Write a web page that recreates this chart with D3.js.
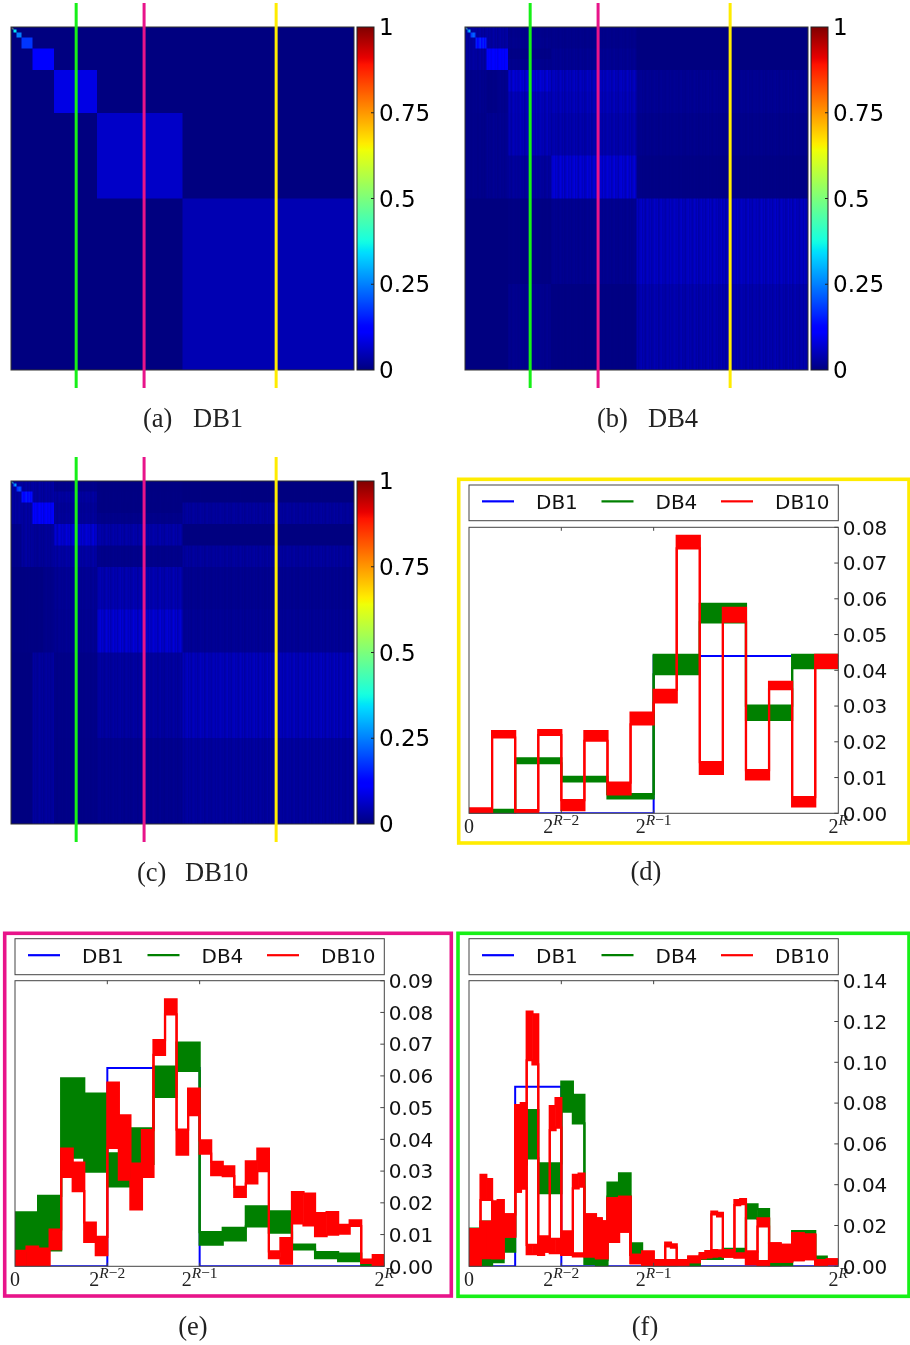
<!DOCTYPE html>
<html>
<head>
<meta charset="utf-8">
<script src="https://cdn.jsdelivr.net/npm/d3@7"></script>
<style>
  html, body { margin: 0; padding: 0; background: #fff; }
  #fig { position: relative; width: 910px; height: 1345px; overflow: hidden; }
  #fig canvas { position: absolute; }
  #fig svg { position: absolute; left: 0; top: 0; }
</style>
</head>
<body>
<div id="fig"></div>
<script>
// ---------------- data ----------------
const seriesNames = ["DB1", "DB4", "DB10"];
const colorbarTicks = [0, 0.25, 0.5, 0.75, 1];
const colorbarTickLabels = ["0", "0.25", "0.5", "0.75", "1"];

// column positions (fraction of the index range) of the three marked columns
const markedColumns = [0.19, 0.388, 0.773];   // green, magenta, yellow

// DB1 diagonal block values, level 0 = [1/2,1), level 9 = [0,1/512)
const db1Levels = [0.044, 0.0625, 0.088, 0.125, 0.177, 0.25, 0.354, 0.5, 0.707, 1.0];
// diagonal values of the small top-left blocks (levels 3..9) and the off-diagonal value there
const db4CornerLevels = [0.11, 0.14, 0.2, 0.28, 0.38, 0.5, 0.6];
const db10CornerLevels = [0.1, 0.13, 0.18, 0.26, 0.35, 0.45, 0.55];
const db4CornerOff = 0.025;
const db10CornerOff = 0.025;
// column-to-column texture (fraction of the local spread)
const stripePattern = [0.5, 1, 0.2, 0.8, 0, 0.6, 0.9, 0.3, 0.7, 0.1];

// yellow column (d): [lo, hi] per equal segment
const yellowDb4 = [[0.0,0.001],[0.014,0.0154],[0.0089,0.0102],[0.0042,0.0054],[0.0389,0.0443],[0.0534,0.0586],[0.0261,0.0301],[0.0406,0.0443]];
const yellowDb10 = [[0.0,0.0014],[0.0212,0.0230],[0.0003,0.0009],[0.0219,0.0233],[0.0009,0.0037],[0.0203,0.0230],[0.0053,0.0086],[0.0249,0.0282],
  [0.0310,0.0345],[0.0741,0.0776],[0.0110,0.0143],[0.0536,0.0575],[0.0095,0.0121],[0.0347,0.0368],[0.0019,0.0045],[0.0407,0.0443]];

// magenta column (e)
const pinkDb4 = [[0.0005,0.017],[0.005,0.0222],[0.0342,0.0592],[0.0298,0.0544],[0.0252,0.0356],[0.0323,0.0435],[0.0534,0.0629],[0.0616,0.0705],
  [0.0068,0.0108],[0.0082,0.0121],[0.0126,0.0189],[0.0106,0.0173],[0.0053,0.0068],[0.0026,0.0045],[0.0016,0.0040],[0.0,0.0012]];
const pinkDb10 = [[0,0.0049],[0,0.0062],[0,0.0056],[0.0054,0.0116],[0.0282,0.0371],[0.0237,0.0327],[0.0077,0.0138],[0.0035,0.0093],
  [0.0373,0.0579],[0.0273,0.0476],[0.0179,0.0324],[0.0282,0.0429],[0.0666,0.0713],[0.0794,0.0841],[0.0352,0.0431],[0.0476,0.0560],
  [0.0355,0.0397],[0.0287,0.0329],[0.0284,0.0315],[0.0219,0.0250],[0.0261,0.0331],[0.0300,0.0371],[0.0026,0.0047],[0.0008,0.0089],
  [0.0135,0.0234],[0.0129,0.0229],[0.0095,0.0168],[0.0100,0.0171],[0.0103,0.0131],[0.0127,0.0145],[0.0011,0.0021],[0,0.0035]];

// green column (f)
const greenDb4 = [[0.0,0.0185],[0.0,0.0219],[0.002,0.009],[0.0072,0.0150],[0.05,0.07],[0.0529,0.0766],[0.0358,0.0505],[0.0358,0.0505],
  [0.0758,0.0905],[0.0701,0.0840],[0.001,0.0056],[0.0,0.003],[0.0342,0.041],[0.0342,0.0456],[0.0056,0.0113],[0.0005,0.003],
  [0,0.002],[0.0003,0.0023],[0.0005,0.0025],[0.0003,0.0015],[0.0036,0.0056],[0.0036,0.0056],[0.0064,0.0085],[0.0064,0.0085],
  [0.0235,0.0304],[0.0232,0.028],[0,0.002],[0.0007,0.0026],[0.0155,0.0173],[0.0154,0.0173],[0.0026,0.0047],[0.0013,0.003]];
const greenDb10Upper = [[0,0.0182],[0,0.0182],[0.0325,0.0448],[0.0325,0.0428],[0.004,0.0317],[0.004,0.0325],[0.0145,0.0255],[0.0145,0.0255],
  [0.0366,0.079],[0.0382,0.080],[0.101,0.1248],[0.099,0.1235],[0.0056,0.0145],[0.0072,0.0145],[0.0668,0.0785],[0.068,0.0824],
  [0.0056,0.017],[0.0056,0.017],[0.0382,0.0448],[0.039,0.0455],[0.0048,0.0255],[0.0048,0.0255],[0.004,0.0235],[0.004,0.022],
  [0.012,0.0333],[0.012,0.0333],[0.017,0.034],[0.017,0.034],[0.0015,0.0056],[0.0015,0.0056],[0.0007,0.0072],[0.0007,0.0072],
  [0.0007,0.0031],[0.0007,0.0031],[0.0098,0.0116],[0.0092,0.0108],[0.0007,0.003],[0.0007,0.003],[0.002,0.0047],[0.002,0.0047],
  [0.004,0.0065],[0.0045,0.0075],[0.0255,0.0268],[0.0245,0.0262],[0.0047,0.008],[0.0047,0.008],[0.030,0.0325],[0.0305,0.033],
  [0.001,0.0072],[0.001,0.0072],[0.0195,0.0235],[0.0195,0.0235],[0.0023,0.0113],[0.0023,0.0113],[0.0023,0.0105],[0.0023,0.0105],
  [0.003,0.0162],[0.003,0.0162],[0.0035,0.0155],[0.0035,0.0155],[0.0007,0.003],[0.0007,0.003],[0.001,0.0034],[0.001,0.0034]];
const greenDb10Lower = [[0,0.0182],[0,0.0182],[0.004,0.0219],[0.004,0.0219],[0.004,0.0317],[0.004,0.0325],[0.0145,0.0255],[0.0145,0.0255],
  [0.0366,0.079],[0.0382,0.080],[0.006,0.0105],[0.006,0.0105],[0.0056,0.0145],[0.0072,0.0145],[0.0065,0.0135],[0.0065,0.0135],
  [0.0056,0.017],[0.0056,0.017],[0.0048,0.0064],[0.0048,0.0064],[0.0048,0.0255],[0.0048,0.0255],[0.004,0.0235],[0.004,0.022],
  [0.012,0.0333],[0.012,0.0333],[0.017,0.034],[0.017,0.034],[0.0015,0.0056],[0.0015,0.0056],[0.0007,0.0072],[0.0007,0.0072],
  [0.0007,0.0031],[0.0007,0.0031],[0.0005,0.003],[0.0005,0.003],[0.0007,0.003],[0.0007,0.003],[0.002,0.0047],[0.002,0.0047],
  [0.004,0.0065],[0.0045,0.0075],[0.0047,0.008],[0.005,0.0078],[0.0047,0.008],[0.0047,0.008],[0.0042,0.0064],[0.0042,0.0064],
  [0.001,0.0072],[0.001,0.0072],[0.0005,0.0025],[0.0005,0.0025],[0.0023,0.0113],[0.0023,0.0113],[0.0023,0.0105],[0.0023,0.0105],
  [0.003,0.0162],[0.003,0.0162],[0.0035,0.0155],[0.0035,0.0155],[0.0007,0.003],[0.0007,0.003],[0.001,0.0034],[0.001,0.0034]];

const yTicksD = [0, 0.01, 0.02, 0.03, 0.04, 0.05, 0.06, 0.07, 0.08];
const yTicksE = [0, 0.01, 0.02, 0.03, 0.04, 0.05, 0.06, 0.07, 0.08, 0.09];
const yTicksF = [0, 0.02, 0.04, 0.06, 0.08, 0.10, 0.12, 0.14];
const xTickValues = [0, 0.25, 0.5, 1];
const xTickLabels = [{ base: "0", exp: null }, { base: "2", exp: "R−2" }, { base: "2", exp: "R−1" }, { base: "2", exp: "R" }];
const heatmapCaptions = [["(a)", "DB1"], ["(b)", "DB4"], ["(c)", "DB10"]];
const plotCaptions = ["(d)", "(e)", "(f)"];

// ---------------- helpers ----------------
const colors = { DB1: "#0000ff", DB4: "#008000", DB10: "#ff0000" };
const markColors = ["#17f017", "#e8148a", "#ffec00"];

const jetR = d3.scaleLinear().domain([0, 0.35, 0.66, 0.89, 1]).range([0, 0, 1, 1, 0.5]).clamp(true);
const jetG = d3.scaleLinear().domain([0, 0.125, 0.375, 0.64, 0.91, 1]).range([0, 0, 1, 1, 0, 0]).clamp(true);
const jetB = d3.scaleLinear().domain([0, 0.11, 0.34, 0.65, 1]).range([0.5, 1, 1, 0, 0]).clamp(true);
const jet = v => [jetR(v) * 255, jetG(v) * 255, jetB(v) * 255];

const levelOf = t => Math.min(9, Math.floor(-Math.log2(t)));

// half of a dyadic block: [a,1.5a) or [1.5a,2a)
function halfBlock(t) {
  const l = levelOf(t);
  if (l >= 9) return [0, Math.pow(2, -9)];
  const a = Math.pow(2, -(l + 1));
  return t < 1.5 * a ? [a, 1.5 * a] : [1.5 * a, 2 * a];
}
// mean of a banded profile over [a,b]
function meanOver(profile, a, b) {
  const n = profile.length;
  let s = 0;
  for (let i = 0; i < n; i++) {
    const ov = Math.max(0, Math.min(b, (i + 1) / n) - Math.max(a, i / n));
    if (ov > 0) s += ov * (profile[i][0] + profile[i][1]) / 2;
  }
  return s / (b - a);
}
const mergeTraces = (a, b) => a.map((d, i) => [Math.min(d[0], b[i][0]), Math.max(d[1], b[i][1])]);

const matrixSpecs = [
  { kind: "haar" },
  { cols: [yellowDb4, pinkDb4, greenDb4], corner: db4CornerLevels, off: db4CornerOff },
  { cols: [yellowDb10, pinkDb10, mergeTraces(greenDb10Upper, greenDb10Lower)], corner: db10CornerLevels, off: db10CornerOff }
];

const meanCache = new Map();
function blockMean(spec, k, t) {
  const hb = halfBlock(t);
  const key = spec.cols.length + "|" + spec.corner[0] + "|" + k + "|" + hb[0];
  let v = meanCache.get(key);
  if (v === undefined) { v = meanOver(spec.cols[k], hb[0], hb[1]); meanCache.set(key, v); }
  return v;
}

function cellValue(spec, r, c) {
  const lr = levelOf(r), lc = levelOf(c);
  if (spec.kind === "haar") return lr === lc ? db1Levels[lr] : 0;
  const s = stripePattern[Math.floor(c * 256) % stripePattern.length];
  let base;
  if (lc <= 2) base = blockMean(spec, lc, r);
  else if (lr <= 2) base = blockMean(spec, lr, c);
  else return lr === lc ? spec.corner[lr - 3] * (0.85 + 0.3 * s) : spec.off * (0.7 + 0.6 * s);
  return base * (0.72 + 0.56 * s);
}

// ---------------- drawing ----------------
const fig = d3.select("#fig");
const W = 910, H = 1345;

const HM = 343;
const heatmapPanels = [{ x: 11, y: 27 }, { x: 465, y: 27 }, { x: 11, y: 481 }];

// heatmap images on canvases (below the svg overlay)
heatmapPanels.forEach((p, k) => {
  const S = HM * 2;
  const cv = fig.append("canvas").attr("width", S).attr("height", S)
    .style("left", p.x + "px").style("top", p.y + "px")
    .style("width", HM + "px").style("height", HM + "px");
  const ctx = cv.node().getContext("2d");
  const img = ctx.createImageData(S, S);
  const frac = d3.scaleLinear().domain([0, S]).range([0, 1]);
  for (let j = 0; j < S; j++) {
    const r = frac(j + 0.5);
    for (let i = 0; i < S; i++) {
      const c = frac(i + 0.5);
      const rgb = jet(cellValue(matrixSpecs[k], r, c));
      const o = (j * S + i) * 4;
      img.data[o] = rgb[0]; img.data[o + 1] = rgb[1]; img.data[o + 2] = rgb[2]; img.data[o + 3] = 255;
    }
  }
  ctx.putImageData(img, 0, 0);
});

const svg = fig.append("svg").attr("width", W).attr("height", H);
const defs = svg.append("defs");

// colorbar gradient
const grad = defs.append("linearGradient").attr("id", "jetgrad")
  .attr("x1", 0).attr("y1", 1).attr("x2", 0).attr("y2", 0);
d3.range(0, 1.0001, 0.01).forEach(v => {
  const c = jet(v);
  grad.append("stop").attr("offset", v).attr("stop-color", d3.rgb(c[0], c[1], c[2]).formatHex());
});

heatmapPanels.forEach((p, k) => {
  const g = svg.append("g");
  g.append("rect").attr("x", p.x).attr("y", p.y).attr("width", HM).attr("height", HM)
    .attr("fill", "none").attr("stroke", "#333").attr("stroke-width", 1);

  // colorbar
  const cbx = p.x + 346, cbw = 17;
  const cbScale = d3.scaleLinear().domain([0, 1]).range([p.y + HM, p.y]);
  g.append("rect").attr("x", cbx).attr("y", p.y).attr("width", cbw).attr("height", HM)
    .attr("fill", "url(#jetgrad)").attr("stroke", "#222").attr("stroke-width", 1);
  colorbarTicks.forEach((t, i) => {
    if (t > 0 && t < 1) {
      g.append("line").attr("x1", cbx + cbw - 3).attr("x2", cbx + cbw).attr("y1", cbScale(t)).attr("y2", cbScale(t))
        .attr("stroke", "#222").attr("stroke-width", 1);
    }
    g.append("text").attr("x", cbx + cbw + 5).attr("y", cbScale(t) + 8.2)
      .attr("font-family", "DejaVu Sans").attr("font-size", 23).attr("fill", "#000")
      .text(colorbarTickLabels[i]);
  });

  // marked columns
  const colX = d3.scaleLinear().domain([0, 1]).range([p.x, p.x + HM]);
  markedColumns.forEach((c, i) => {
    g.append("line").attr("x1", colX(c)).attr("x2", colX(c)).attr("y1", p.y - 24).attr("y2", p.y + HM + 18)
      .attr("stroke", markColors[i]).attr("stroke-width", 3);
  });

  // caption
  const cap = g.append("text").attr("y", p.y + HM + 57)
    .attr("font-family", "Liberation Serif").attr("font-size", 26.5).attr("fill", "#222");
  const capX = [[143, 193], [597, 648], [137, 185]][k];
  cap.append("tspan").attr("x", capX[0]).text(heatmapCaptions[k][0]);
  cap.append("tspan").attr("x", capX[1]).text(heatmapCaptions[k][1]);
});

// ---------------- profile panels ----------------
const panels = [
  { id: "d", x0: 469, x1: 838.3, top: 527.3, bot: 813.3, legTop: 485, legBot: 520.7, ticks: yTicksD, yMax: 0.08,
    col: markedColumns[2], db4: [yellowDb4], db10: [yellowDb10], frame: [458.7, 479.3, 450.3, 363.7], frameColor: markColors[2], capX: 646, capY: 880 },
  { id: "e", x0: 15, x1: 384.3, top: 980.7, bot: 1266.3, legTop: 938.7, legBot: 974.7, ticks: yTicksE, yMax: 0.09,
    col: markedColumns[1], db4: [pinkDb4], db10: [pinkDb10], frame: [4.7, 933.3, 446.6, 362.7], frameColor: markColors[1], capX: 193, capY: 1335 },
  { id: "f", x0: 469, x1: 838.3, top: 980.7, bot: 1266.3, legTop: 938.7, legBot: 974.7, ticks: yTicksF, yMax: 0.14,
    col: markedColumns[0], db4: [greenDb4], db10: [greenDb10Lower, greenDb10Upper], frame: [458, 933.3, 451, 363], frameColor: markColors[0], capX: 645, capY: 1335 }
];

panels.forEach((P, pi) => {
  const g = svg.append("g");
  const x = d3.scaleLinear().domain([0, 1]).range([P.x0, P.x1]);
  const y = d3.scaleLinear().domain([0, P.yMax]).range([P.bot, P.top]);

  // frame
  g.append("rect").attr("x", P.frame[0]).attr("y", P.frame[1]).attr("width", P.frame[2]).attr("height", P.frame[3])
    .attr("fill", "none").attr("stroke", P.frameColor).attr("stroke-width", 3.6);

  defs.append("clipPath").attr("id", "clip-" + P.id).append("rect")
    .attr("x", P.x0).attr("y", P.top).attr("width", P.x1 - P.x0).attr("height", P.bot - P.top);
  const plot = g.append("g").attr("clip-path", `url(#clip-${P.id})`);

  // DB1: column of the Haar matrix
  const colLevel = levelOf(P.col);
  const N = 512;
  const db1Pts = d3.range(N).map(i => {
    const r = (i + 0.5) / N;
    return [i / N, levelOf(r) === colLevel ? db1Levels[colLevel] : 0];
  });
  db1Pts.push([1, db1Pts[N - 1][1]]);
  const stepLine = d3.line().curve(d3.curveStepAfter).x(d => x(d[0])).y(d => y(d[1]));
  plot.append("path").attr("d", stepLine(db1Pts)).attr("fill", "none")
    .attr("stroke", colors.DB1).attr("stroke-width", 2);

  function drawTrace(trace, color) {
    const n = trace.length;
    plot.append("g").selectAll("rect").data(trace).join("rect")
      .attr("x", (d, i) => x(i / n) - 0.3)
      .attr("width", (d, i) => x((i + 1) / n) - x(i / n) + 0.6)
      .attr("y", d => y(d[1]))
      .attr("height", d => Math.max(0, y(d[0]) - y(d[1])))
      .attr("fill", color);
    [0, 1].forEach(k => {
      const pts = trace.map((d, i) => [i / n, d[k]]);
      pts.push([1, trace[n - 1][k]]);
      plot.append("path").attr("d", stepLine(pts)).attr("fill", "none")
        .attr("stroke", color).attr("stroke-width", 2.2);
    });
  }
  P.db4.forEach(t => drawTrace(t, colors.DB4));
  P.db10.forEach(t => drawTrace(t, colors.DB10));

  // axes box
  g.append("rect").attr("x", P.x0).attr("y", P.top).attr("width", P.x1 - P.x0).attr("height", P.bot - P.top)
    .attr("fill", "none").attr("stroke", "#444").attr("stroke-width", 1);

  // y ticks (right side)
  P.ticks.forEach(t => {
    g.append("line").attr("x1", P.x1 - 4).attr("x2", P.x1).attr("y1", y(t)).attr("y2", y(t))
      .attr("stroke", "#444").attr("stroke-width", 1);
    g.append("text").attr("x", P.x1 + 4.5).attr("y", y(t) + 7.3)
      .attr("font-family", "DejaVu Sans").attr("font-size", 20).attr("fill", "#111")
      .text(d3.format(".2f")(t));
  });

  // x ticks
  xTickValues.forEach((v, i) => {
    if (v > 0 && v < 1) {
      g.append("line").attr("x1", x(v)).attr("x2", x(v)).attr("y1", P.top).attr("y2", P.top + 3.5)
        .attr("stroke", "#444").attr("stroke-width", 1);
      g.append("line").attr("x1", x(v)).attr("x2", x(v)).attr("y1", P.bot).attr("y2", P.bot - 3.5)
        .attr("stroke", "#444").attr("stroke-width", 1);
    }
    const lab = xTickLabels[i];
    const t = g.append("text").attr("x", x(v)).attr("y", P.bot + 20).attr("text-anchor", "middle")
      .attr("font-family", "Liberation Serif").attr("font-size", 20).attr("fill", "#222");
    t.append("tspan").text(lab.base);
    if (lab.exp) {
      const sup = t.append("tspan").attr("dy", -8.5).attr("font-size", 15.5);
      sup.append("tspan").attr("font-style", "italic").text(lab.exp[0]);
      if (lab.exp.length > 1) sup.append("tspan").text(lab.exp.slice(1));
    }
  });

  // legend
  g.append("rect").attr("x", P.x0).attr("y", P.legTop).attr("width", P.x1 - P.x0).attr("height", P.legBot - P.legTop)
    .attr("fill", "#fff").attr("stroke", "#444").attr("stroke-width", 1);
  const ly = (P.legTop + P.legBot) / 2 - 1.5;
  seriesNames.forEach((name, i) => {
    const lx = P.x0 + 13 + i * 119.5;
    g.append("line").attr("x1", lx).attr("x2", lx + 32).attr("y1", ly).attr("y2", ly)
      .attr("stroke", colors[name]).attr("stroke-width", 2.2);
    g.append("text").attr("x", lx + 54).attr("y", ly + 7.5)
      .attr("font-family", "DejaVu Sans").attr("font-size", 20).attr("fill", "#111").text(name);
  });

  // caption
  g.append("text").attr("x", P.capX).attr("y", P.capY).attr("text-anchor", "middle")
    .attr("font-family", "Liberation Serif").attr("font-size", 26.5).attr("fill", "#222").text(plotCaptions[pi]);
});
</script>
</body>
</html>
